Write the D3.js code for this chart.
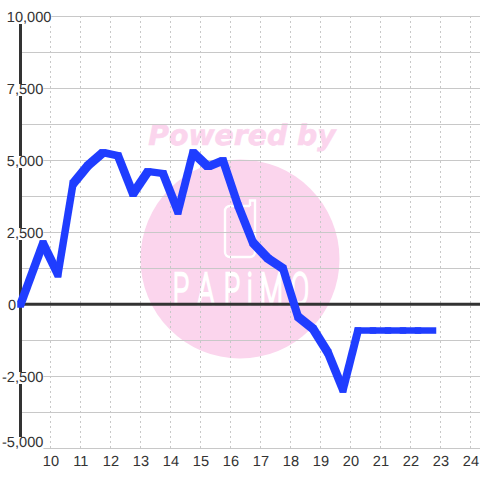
<!DOCTYPE html>
<html><head><meta charset="utf-8">
<script src="https://cdn.jsdelivr.net/npm/d3@7"></script>
<style>html,body{margin:0;padding:0;background:#fff}svg{display:block}text{text-rendering:geometricPrecision}</style>
</head><body><svg id="c" width="480" height="480"></svg>
<script>
const hours = [9,9.75,10.25,10.75,11.25,11.75,12.25,12.75,13.25,13.75,14.25,14.75,15.25,15.75,16.25,16.75,17.25,17.75,18.25,18.75,19.25,19.75,20.25,20.75,21.25,21.75,22.25,22.75];
const values = [0,2120,1050,4200,4830,5280,5170,3850,4620,4550,3230,5280,4790,5000,3450,2150,1600,1250,-420,-840,-1670,-2950,-900,-900,-900,-900,-900,-900];
const xTicks = [10,11,12,13,14,15,16,17,18,19,20,21,22,23,24];
const yLabelled = [10000,7500,5000,2500,0,-2500,-5000];
const yGrid = [10000,8750,7500,6250,5000,3750,2500,1250,0,-1250,-2500,-3750,-5000];
const logoLetters = ['P','A','P','i','M','O'];
const logoLeft = [173,198,224,247,260,291];

const svg = d3.select('#c');
const x = d3.scaleLinear().domain([9,25]).range([20.5,500.5]);
const y = d3.scaleLinear().domain([-5000,10000]).range([448,16]);
const font = '"Liberation Sans", Arial, sans-serif';

// watermark
const wm = svg.append('g');
wm.append('circle').attr('cx',240).attr('cy',259).attr('r',99.5).attr('fill','#fbd5ed');
wm.append('text').attr('x',242).attr('y',144.5).attr('text-anchor','middle')
  .attr('font-family','"DejaVu Sans"').attr('font-weight','bold').attr('font-style','italic')
  .attr('font-size',28.3).attr('fill','#fbd5ed').attr('stroke','#fbd5ed').attr('stroke-width',.6).text('Powered by');
wm.append('path').attr('d','M250 206V200.5H255V252a5 5 0 0 1-5 5H230a5 5 0 0 1-5-5V211a5 5 0 0 1 5-5H250')
  .attr('fill','none').attr('stroke','#fff').attr('stroke-width',2.4);
const sx = .62;
wm.append('g').attr('transform',`scale(${sx},1)`).selectAll('text').data(logoLetters).join('text')
  .attr('x',(d,i)=>logoLeft[i]/sx).attr('y',304)
  .attr('font-family','Roboto').attr('font-weight',100).attr('font-size',43)
  .attr('fill','#fff').attr('stroke','#fff').attr('stroke-width',3.4)
  .text(d=>d);

// grid
svg.append('g').selectAll('line').data(xTicks).join('line')
  .attr('x1',d=>x(d)).attr('x2',d=>x(d)).attr('y1',y(10000)).attr('y2',y(-5000))
  .attr('stroke','#c8c8c8').attr('stroke-dasharray','2,3');
svg.append('g').selectAll('line').data(yGrid).join('line')
  .attr('x1',20).attr('x2',480).attr('y1',d=>y(d)+.5).attr('y2',d=>y(d)+.5)
  .attr('stroke','#c8c8c8').attr('stroke-width',1);

// axes
svg.append('line').attr('x1',20.5).attr('x2',20.5).attr('y1',y(10000)).attr('y2',y(-5000)).attr('stroke','#333').attr('stroke-width',3);
svg.append('line').attr('x1',20).attr('x2',480).attr('y1',y(0)+.2).attr('y2',y(0)+.2).attr('stroke','#333').attr('stroke-width',3);

// labels with white background
const fmt = d3.format(',');
const labels = svg.append('g');
yLabelled.forEach(v=>{
  const g = labels.append('g');
  const neg = v<0;
  const t = g.append('text').attr('x',v===0?8:(neg?2:6.8)).attr('y',y(v)+(v===-5000?-1:6))
    .attr('font-family',font).attr('font-size',14.6).attr('fill','#333').text(fmt(v).replace('\u2212','-'));
  const b = t.node().getBBox();
  g.insert('rect','text').attr('x',b.x).attr('y',+t.attr('y')-10).attr('width',b.width).attr('height',12).attr('fill','#fff');
});
svg.append('g').selectAll('text').data(xTicks).join('text')
  .attr('x',d=>x(d)+.4).attr('y',466).attr('text-anchor','middle')
  .attr('font-family',font).attr('font-size',14.6).attr('fill','#333').text(d=>d);

// series: swept with a square pen, as in the reference
const pen = 3.25;
const pts = hours.map((h,i)=>[x(h),y(values[i])+.6]);
const corners = p=>[[p[0]-pen,p[1]-pen],[p[0]+pen,p[1]-pen],[p[0]+pen,p[1]+pen],[p[0]-pen,p[1]+pen]];
svg.append('g').selectAll('path').data(d3.pairs(pts)).join('path')
  .attr('d',([a,b])=>'M'+d3.polygonHull(corners(a).concat(corners(b))).join('L')+'Z')
  .attr('fill','#1f3dff');
</script></body></html>
